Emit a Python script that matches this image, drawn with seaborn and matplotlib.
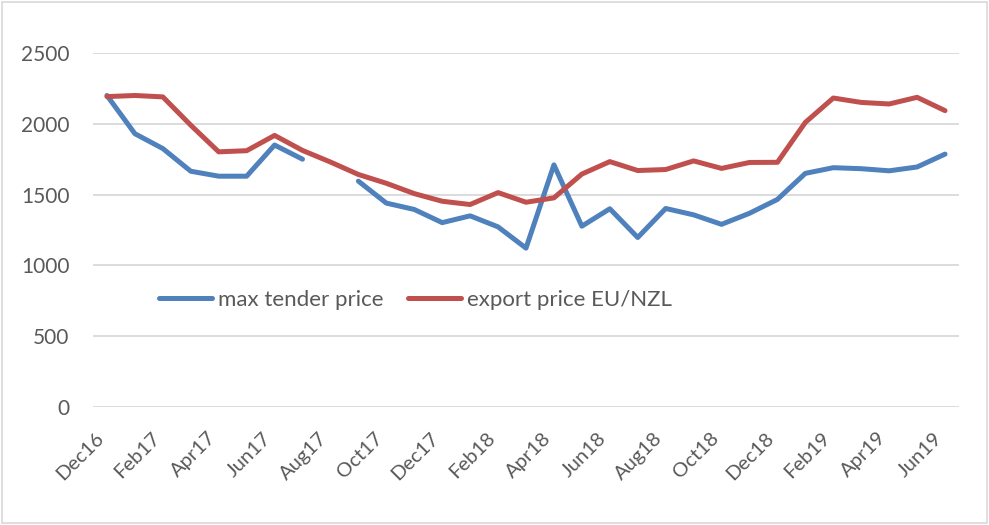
import numpy as np
import pandas as pd
import matplotlib
matplotlib.use('Agg')
import matplotlib.pyplot as plt
import seaborn as sns
from matplotlib.patches import Rectangle

# Monthly data Dec16 .. Jun19
months = ['Dec16', 'Jan17', 'Feb17', 'Mar17', 'Apr17', 'May17', 'Jun17', 'Jul17',
          'Aug17', 'Sep17', 'Oct17', 'Nov17', 'Dec17', 'Jan18', 'Feb18', 'Mar18',
          'Apr18', 'May18', 'Jun18', 'Jul18', 'Aug18', 'Sep18', 'Oct18', 'Nov18',
          'Dec18', 'Jan19', 'Feb19', 'Mar19', 'Apr19', 'May19', 'Jun19']

max_tender = [2200, 1930, 1825, 1665, 1630, 1630, 1850, 1750,
              np.nan, 1595, 1440, 1395, 1302, 1350, 1272, 1122,
              1710, 1277, 1400, 1197, 1402, 1357, 1290, 1368,
              1466, 1650, 1690, 1683, 1668, 1695, 1786]

export_price = [2192, 2200, 2190, 1990, 1802, 1810, 1918, 1812,
                1730, 1642, 1580, 1507, 1453, 1430, 1514, 1446,
                1477, 1645, 1733, 1670, 1677, 1738, 1685, 1727,
                1728, 2010, 2182, 2151, 2140, 2187, 2093]

labels = ['max tender price', 'export price EU/NZL']
colors = ['#4F81BD', '#C0504D']

# long table, blue line split into segments around the missing month
rows = []
seg = 0
for i, v in enumerate(max_tender):
    if np.isnan(v):
        seg += 1
        continue
    rows.append({'idx': i, 'value': v, 'series': labels[0], 'seg': seg})
for i, v in enumerate(export_price):
    rows.append({'idx': i, 'value': v, 'series': labels[1], 'seg': 0})
df = pd.DataFrame(rows)

sns.set_style('white')
plt.rcParams['font.family'] = ['Lato', 'DejaVu Sans']

fig = plt.figure(figsize=(9.89, 5.25), dpi=100)
ax = fig.add_axes([93 / 989, 1 - 407 / 525, 866 / 989, 354 / 525])

sns.lineplot(data=df, x='idx', y='value', hue='series', units='seg', estimator=None,
             palette=colors, hue_order=labels, linewidth=3.6, ax=ax,
             solid_capstyle='round', solid_joinstyle='round', legend=True)

ax.set_xlim(-0.5, len(months) - 0.5)
ax.set_ylim(0, 2500)
ax.set_yticks(range(0, 2501, 500))
ax.yaxis.grid(True, color='#D9D9D9', linewidth=1.3)
ax.set_axisbelow(True)
for s in ax.spines.values():
    s.set_visible(False)

ax.set_xticks(range(0, len(months), 2))
ax.set_xticklabels(months[::2], rotation=45, ha='right', rotation_mode='default')
ax.tick_params(axis='x', length=0, pad=16, labelsize=14.5, labelcolor='#595959')
ax.tick_params(axis='y', length=0, pad=17, labelsize=15, labelcolor='#595959')
ax.set_xlabel('')
ax.set_ylabel('')

handles, labs = ax.get_legend_handles_labels()
leg = ax.legend(handles, labs, loc='center', bbox_to_anchor=(0.372, 0.302), ncol=2,
                frameon=False, fontsize=16, handlelength=2.4, handletextpad=0.25,
                columnspacing=1.1, labelcolor='#595959')
for h in leg.get_lines():
    h.set_linewidth(3.6)
    h.set_solid_capstyle('round')

fig.patches.append(Rectangle((2 / 989, 2 / 525), 985 / 989, 521 / 525, transform=fig.transFigure,
                             fill=False, edgecolor='#D9D9D9', linewidth=1.2))

fig.savefig('out.png', dpi=100)
